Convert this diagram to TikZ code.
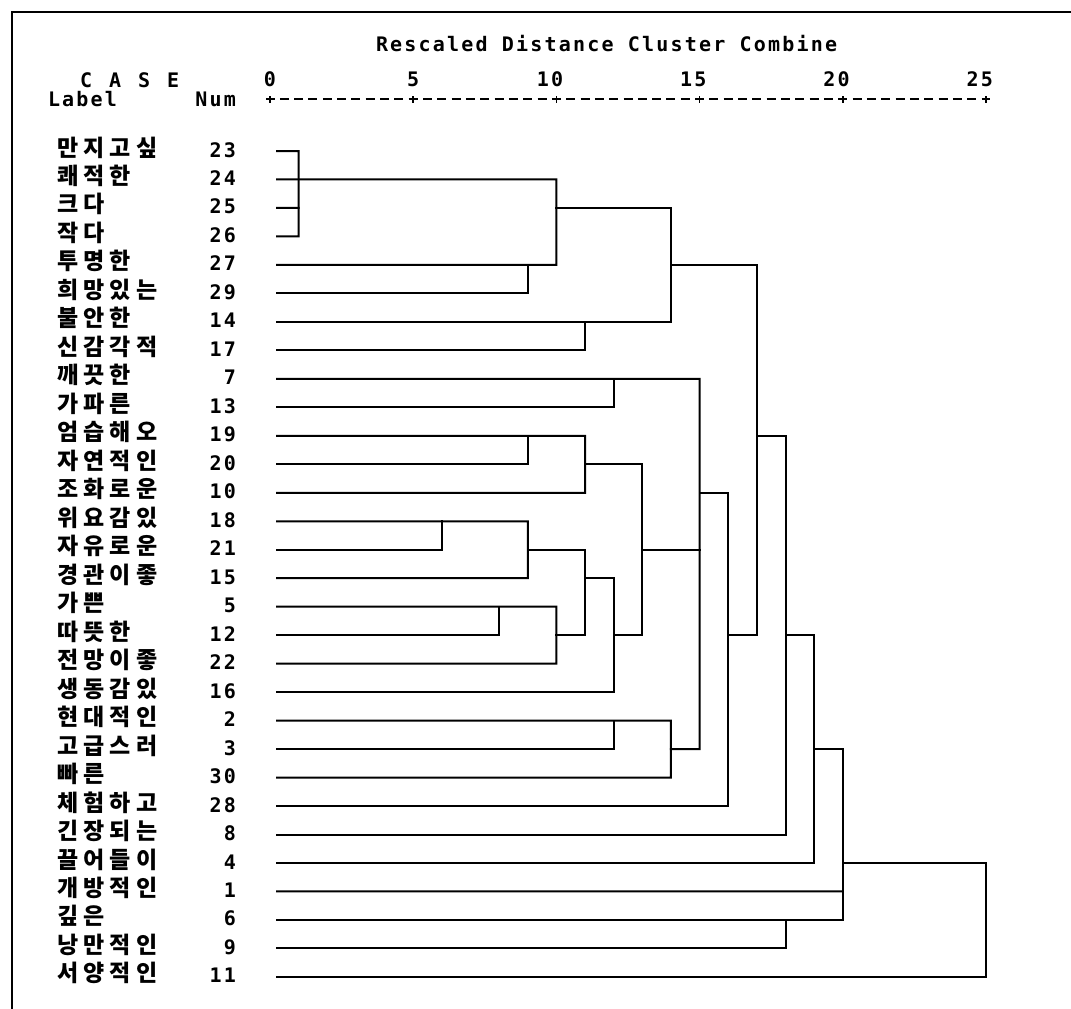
\documentclass[tikz,border=0pt]{standalone}
\usepackage{fontspec}
\newfontfamily\spss[LetterSpace=11]{DejaVu Sans Mono}
\newfontfamily\kor[LetterSpace=23]{Noto Sans CJK KR}

\begin{document}
\begin{tikzpicture}[
  x=0.5pt, y=-0.5pt,
  line cap=rect, line join=miter,
  every node/.style={inner sep=0pt, outer sep=0pt},
  txt/.style={font=\spss\bfseries\fontsize{10}{12}\selectfont},
  kor/.style={font=\kor\bfseries\fontsize{11.5}{13}\selectfont},
  tree/.style={draw=black, line width=1pt},
  frame/.style={draw=black, line width=1.3pt},
  axis/.style={draw=black, line width=0.8pt, line cap=butt, dash pattern=on 4.5pt off 2.66pt, dash phase=2.25pt},
  plus/.style={draw=black, line width=0.8pt},
]
\useasboundingbox (0,0) rectangle (1071,1008);
\draw[frame] (12,1008) -- (12,12) -- (1071,12);

% header
\node[txt, anchor=base west] (title) at (376,51) {Rescaled Distance Cluster Combine};
\node[txt, anchor=base west] (case) at (80,87) {C\hskip8.5pt A\hskip8.5pt S\hskip8.5pt E};
\node[txt, anchor=base west] (label) at (48,106) {Label};
\node[txt, anchor=base east] (num) at (236,106) {Num};

% cases
\foreach \r/\n/\w in {0/23/만지고싶, 1/24/쾌적한, 2/25/크다, 3/26/작다, 4/27/투명한,
    5/29/희망있는, 6/14/불안한, 7/17/신감각적, 8/7/깨끗한, 9/13/가파른,
    10/19/엄습해오, 11/20/자연적인, 12/10/조화로운, 13/18/위요감있, 14/21/자유로운,
    15/15/경관이좋, 16/5/가쁜, 17/12/따뜻한, 18/22/전망이좋, 19/16/생동감있,
    20/2/현대적인, 21/3/고급스러, 22/30/빠른, 23/28/체험하고, 24/8/긴장되는,
    25/4/끌어들이, 26/1/개방적인, 27/6/깊은, 28/9/낭만적인, 29/11/서양적인} {
  \node[kor, anchor=base west] (k\n) at (57,{156+28.48*\r}) {\w};
  \node[txt, anchor=base east] (n\n) at (236,{157+28.48*\r}) {\n};
  \coordinate (leaf\n) at (277,{151+28.48*\r});
}

\begin{scope}[shift={(270,151)}, x=14.32pt, y=-14.24pt]
  % axis
  \draw[axis] (0,-1.82) -- (25,-1.82);
  \foreach \t/\s in {0/0, 5/0, 10/-0.22, 15/-0.22, 20/-0.22, 25/-0.22} {
    \draw[plus] (\t,-1.82) +(-0.12,0) -- +(0.12,0) +(0,-0.1) -- +(0,0.1);
    \node[txt, anchor=base] (t\t) at ({\t+\s},-2.25) {\t};
  }

  % clusters
  \draw[tree] (leaf23) -| (1,3) -- (leaf26);
  \draw[tree] (leaf25) -- (1,2);
  \draw[tree] (leaf24) -- (10,1) |- (leaf27);
  \draw[tree] (leaf29) -| (9,4);
  \draw[tree] (10,2) -- (14,2) |- (leaf14);
  \draw[tree] (leaf17) -| (11,6);
  \draw[tree] (14,4) -- (17,4) |- (16,17);

  \draw[tree] (leaf7) -- (15,8) |- (14,21);
  \draw[tree] (leaf13) -| (12,8);
  \draw[tree] (leaf19) -- (11,10) |- (leaf10);
  \draw[tree] (leaf20) -| (9,10);
  \draw[tree] (11,11) -- (13,11) |- (12,17);
  \draw[tree] (leaf18) -- (9,13) |- (leaf15);
  \draw[tree] (leaf21) -| (6,13);
  \draw[tree] (9,14) -- (11,14) |- (10,17);
  \draw[tree] (leaf5) -- (10,16) |- (leaf22);
  \draw[tree] (leaf12) -| (8,16);
  \draw[tree] (11,15) -- (12,15) |- (leaf16);
  \draw[tree] (13,14) -- (15,14);
  \draw[tree] (leaf2) -- (14,20) |- (leaf30);
  \draw[tree] (leaf3) -| (12,20);

  \draw[tree] (15,12) -- (16,12) |- (leaf28);
  \draw[tree] (17,10) -- (18,10) |- (leaf8);
  \draw[tree] (18,17) -- (19,17) |- (leaf4);
  \draw[tree] (19,21) -- (20,21) |- (leaf6);
  \draw[tree] (leaf1) -- (20,26);
  \draw[tree] (leaf9) -| (18,27);
  \draw[tree] (20,25) -- (25,25) |- (leaf11);
\end{scope}
\end{tikzpicture}
\end{document}
